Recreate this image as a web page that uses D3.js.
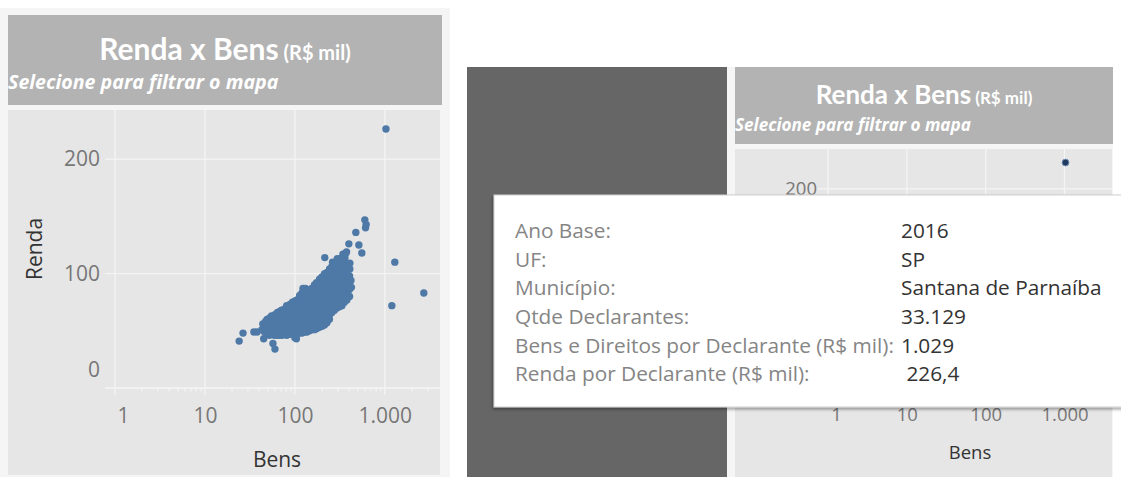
<!DOCTYPE html>
<html><head><meta charset="utf-8">
<script src="https://cdn.jsdelivr.net/npm/d3@7"></script>
<style>
html,body{margin:0;padding:0;background:#fff;overflow:hidden}
svg{display:block}
text{font-family:"Open Sans",sans-serif}
</style></head><body>
<svg id="c" width="1121" height="477"></svg>
<script>
// ---------- data ----------
const titleMain = "Renda x Bens";
const titleUnit = "(R$ mil)";
const subtitle = "Selecione para filtrar o mapa";
const xAxisTitle = "Bens";
const yAxisTitle = "Renda";
const xTicks = [1, 10, 100, 1000];
const xMinorTicks = [2,3,4,5,6,7,8,9,20,30,40,50,60,70,80,90,200,300,400,500,600,700,800,900,2000,3000];
const yTicks = [0, 100, 200];
const yTicksVisibleRight = [200]; // the others are hidden under the tooltip
const tooltipLabels = ["Ano Base:", "UF:", "Município:", "Qtde Declarantes:", "Bens e Direitos por Declarante (R$ mil):", "Renda por Declarante (R$ mil):"];
const tooltipValues = ["2016", "SP", "Santana de Parnaíba", "33.129", "1.029", " 226,4"];
const selecionado = [1029, 226.4];
// [bens por declarante, renda por declarante] (R$ mil)
const municipios = [
[24,41],[26.5,48],[35,49],[38,49],[45,43],[57,39],[60,34],[104,43],[100,44],
[43,51],[44,56],
[46,49],[46,54],[47,58],
[49,47],[49,52],[50,57],[49,60],
[52,46],[52,51],[53,55],[52,61],
[55,47],[56,51],[55,56],[56,60],[55,63],
[59,46],[59,50],[60,55],[59,59],[60,64],
[63,46],[63,50],[64,54],[63,59],[62,63],[64,66],
[67,46],[68,51],[67,55],[68,60],[67,64],[68,67],
[72,46],[71,50],[72,55],[73,59],[72,64],[71,68],
[76,47],[77,51],[76,56],[77,60],[76,65],[77,69],
[81,46],[82,50],[81,55],[82,59],[81,64],[82,68],[81,72],
[87,47],[86,51],[87,56],[88,60],[87,65],[86,69],[88,73],
[93,47],[92,51],[93,56],[94,60],[93,64],[92,68],[93,72],[94,75],
[99,46],[100,51],[99,55],[98,60],[100,64],[99,68],[98,72],[100,76],
[105,47],[106,51],[105,56],[104,60],[106,64],[105,69],[104,73],[106,77],
[112,48],[112,52],[113,57],[111,61],[112,65],[113,70],[112,74],[111,78],[113,81],
[120,48],[121,53],[119,57],[120,62],[121,66],[120,71],[119,75],[121,79],[120,83],
[123,87],[131,87],
[128,49],[128,53],[127,58],[129,62],[128,67],[127,71],[129,75],[128,80],[127,84],
[136,49],[137,54],[135,58],[136,63],[137,67],[136,72],[135,76],[137,80],[136,85],
[145,50],[145,55],[146,59],[144,64],[145,68],[146,73],[145,77],[144,81],[146,86],
[154,51],[155,55],[153,60],[154,64],[155,69],[154,73],[153,78],[155,82],[154,87],
[165,51],[164,56],[166,60],[165,65],[164,69],[166,74],[165,78],[164,83],[166,87],[165,90],
[175,52],[176,56],[174,61],[175,65],[176,70],[175,74],[174,79],[176,83],[175,88],[174,92],
[187,53],[188,57],[186,62],[187,66],[188,71],[187,75],[186,80],[188,84],[187,89],[186,93],[188,95],
[200,54],[201,58],[199,63],[200,67],[201,72],[200,76],[199,81],[201,85],[200,90],[199,94],[200,97],
[213,55],[214,60],[212,64],[213,69],[214,73],[213,78],[212,82],[214,87],[213,91],[212,96],[214,100],
[227,57],[228,61],[226,66],[227,70],[228,75],[227,79],[226,84],[228,88],[227,93],[226,97],[228,101],
[242,60],[243,64],[241,69],[242,73],[243,78],[242,82],[241,87],[243,91],[242,96],[241,100],[243,104],
[258,66],[259,70],[257,75],[258,80],[259,84],[258,89],[257,93],[259,98],[258,102],[257,106],[262,110],
[275,68],[276,72],[274,77],[275,81],[276,86],[275,90],[274,95],[276,99],[275,104],[274,108],
[293,70],[294,74],[292,79],[293,83],[294,88],[293,92],[292,97],[294,101],[293,106],[292,110],[296,113],
[312,71],[313,75],[311,80],[312,84],[313,89],[312,93],[311,98],[313,102],[312,106],[311,111],[316,113],
[333,72],[334,77],[332,81],[333,86],[334,90],[333,95],[332,99],[334,104],[333,108],[332,112],
[355,75],[356,79],[354,84],[355,88],[356,93],[355,97],[354,102],[356,106],[355,111],[360,114],
[378,77],[379,82],[377,86],[378,91],[379,95],[378,100],[377,104],[379,109],[375,119],
[405,80],[404,86],[406,92],[405,98],[408,104],[420,94],[425,88],[408,109],
[215,114],[342,117],[369,118],[388,107],[398,126],[476,136],[514,125],[555,118],[599,147],[619,143],[610,140],
[1291,110],[2712,83],[1196,72],[1029,226.4]
];

// ---------- drawing ----------
const fmt = d3.formatLocale({decimal: ",", thousands: ".", grouping: [3], currency: ["R$ ", ""]}).format(",");
const svg = d3.select("#c");
const GRID = "#f4f4f4";

svg.append("rect").attr("width",1121).attr("height",477).attr("fill","#fff");
svg.append("rect").attr("x",0).attr("y",8).attr("width",450).attr("height",469).attr("fill","#f5f5f5");
svg.append("rect").attr("x",467).attr("y",67).attr("width",260).attr("height",410).attr("fill","#666");
svg.append("rect").attr("x",727).attr("y",67).attr("width",386).attr("height",410).attr("fill","#f5f5f5");

function chart(c) {
  const g = svg.append("g");
  g.append("rect").attr("x",c.hx).attr("y",c.hy).attr("width",c.hw).attr("height",c.hh).attr("fill","#b3b3b3");
  const t = g.append("text").attr("x",c.hx + c.hw/2).attr("y",c.titleY).attr("text-anchor","middle")
    .attr("fill","#fff").style("font-family","Lato, 'Open Sans', sans-serif").style("font-weight",700);
  t.append("tspan").style("font-size",c.titleSize+"px").text(titleMain);
  t.append("tspan").style("font-size",c.unitSize+"px").text(" " + titleUnit);
  g.append("text").attr("x",c.hx).attr("y",c.subY).attr("fill","#fff")
    .style("font-family","'Open Sans', sans-serif").style("font-weight",700).style("font-style","italic")
    .style("font-size",c.subSize+"px").text(subtitle);

  g.append("rect").attr("x",c.px).attr("y",c.py).attr("width",c.pw).attr("height",c.ph).attr("fill","#e6e6e6");

  const x = d3.scaleLog().domain([1,4000]).range([c.x0, c.x1]);
  const y = d3.scaleLinear().domain([0, c.ymax]).range([c.y0, c.py]);

  // vertical grid
  g.append("g").selectAll("line").data(xTicks).join("line")
    .attr("x1",d=>x(d)).attr("x2",d=>x(d)).attr("y1",c.py).attr("y2",c.y0+7)
    .attr("stroke",GRID).attr("stroke-width",1.3);
  // horizontal grid (with left tick)
  g.append("g").selectAll("line").data(yTicks).join("line")
    .attr("x1",c.x0-10).attr("x2",c.px+c.pw).attr("y1",d=>y(d)).attr("y2",d=>y(d))
    .attr("stroke",GRID).attr("stroke-width",1.3);
  // minor ticks
  g.append("g").selectAll("line").data(xMinorTicks).join("line")
    .attr("x1",d=>x(d)).attr("x2",d=>x(d)).attr("y1",c.y0).attr("y2",c.y0+3.5)
    .attr("stroke",GRID).attr("stroke-width",1.2);

  // x axis labels
  const ax = g.append("g").attr("transform",`translate(0,${c.y0})`)
    .call(d3.axisBottom(x).tickValues(xTicks).tickFormat(fmt).tickSize(0).tickPadding(c.xPad));
  ax.select(".domain").remove();
  ax.selectAll("text").style("font-size",c.tickSize+"px").attr("fill","#777")
    .style("font-family","'Open Sans', sans-serif")
    .attr("dx", d => d === 1 ? c.firstDx : 0);

  // y axis labels
  const ay = g.append("g").attr("transform",`translate(${c.x0},0)`)
    .call(d3.axisLeft(y).tickValues(c.yLabelTicks).tickFormat(fmt).tickSize(0).tickPadding(c.yPad));
  ay.select(".domain").remove();
  ay.selectAll("text").style("font-size",c.tickSize+"px").attr("fill","#777")
    .style("font-family","'Open Sans', sans-serif")
    .attr("y", d => d === 0 ? c.zeroShift : 0);

  // points
  g.append("g").selectAll("circle").data(municipios).join("circle")
    .attr("cx",d=>x(d[0])).attr("cy",d=>y(d[1])).attr("r",c.r)
    .attr("fill","#4e79a7").attr("fill-opacity",c.ptOpacity);
  if (c.showSel) {
    g.append("circle").attr("cx",x(selecionado[0])).attr("cy",y(selecionado[1])).attr("r",3.4)
      .attr("fill","#1f3a5c").attr("stroke","#6f8fb3").attr("stroke-width",1);
  }

  // axis titles
  g.append("text").attr("x",(c.x0+c.x1)/2).attr("y",c.bensY).attr("dy","0.35em").attr("text-anchor","middle")
    .attr("fill","#333").style("font-size",c.titleAxSize+"px").text(xAxisTitle);
  if (c.showRenda) {
    g.append("text").attr("transform",`translate(${c.rendaX},${(c.py+c.y0)/2}) rotate(-90)`).attr("dy","0.35em")
      .attr("text-anchor","middle").attr("fill","#333").style("font-size",c.titleAxSize+"px").text(yAxisTitle);
  }
}

chart({hx:8, hy:15, hw:434, hh:90, titleY:60, titleSize:30, unitSize:20, subY:89, subSize:19.6,
  px:8, py:110, pw:432, ph:365, x0:115, x1:439, y0:388, ymax:243, yLabelTicks:yTicks,
  xPad:20, yPad:15, tickSize:21, firstDx:8, zeroShift:-18, r:3.7, ptOpacity:1, showSel:false,
  bensY:460, rendaX:35, titleAxSize:21, showRenda:true});

chart({hx:735, hy:67, hw:378, hh:77, titleY:104, titleSize:26, unitSize:17, subY:131, subSize:17.1,
  px:735, py:149, pw:377, ph:328, x0:828, x1:1112, y0:388, ymax:240, yLabelTicks:yTicksVisibleRight,
  xPad:20, yPad:11, tickSize:18.5, firstDx:8, zeroShift:-16, r:3.3, ptOpacity:0.35, showSel:true,
  bensY:453, rendaX:752, titleAxSize:18.5, showRenda:false});

// tooltip
const defs = svg.append("defs");
const f = defs.append("filter").attr("id","sh").attr("x","-5%").attr("y","-10%").attr("width","110%").attr("height","125%");
f.append("feDropShadow").attr("dx",-1).attr("dy",2).attr("stdDeviation",1.5).attr("flood-color","#000").attr("flood-opacity",0.35);
const tip = svg.append("g");
tip.append("rect").attr("x",494).attr("y",195).attr("width",650).attr("height",212)
  .attr("fill","#fff").attr("stroke","#cfcfcf").attr("filter","url(#sh)");
const rowY = d3.scalePoint().domain(d3.range(tooltipLabels.length)).range([231, 374]);
tip.selectAll("text.l").data(tooltipLabels).join("text").attr("class","l")
  .attr("x",515).attr("y",(d,i)=>rowY(i)).attr("dy","0.35em").attr("fill","#858585")
  .style("font-size","20.8px").text(d=>d);
tip.selectAll("text.v").data(tooltipValues).join("text").attr("class","v")
  .attr("x",901).attr("y",(d,i)=>rowY(i)).attr("dy","0.35em").attr("fill","#333")
  .style("font-size","20.8px").style("white-space","pre").text(d=>d);
</script>
</body></html>
